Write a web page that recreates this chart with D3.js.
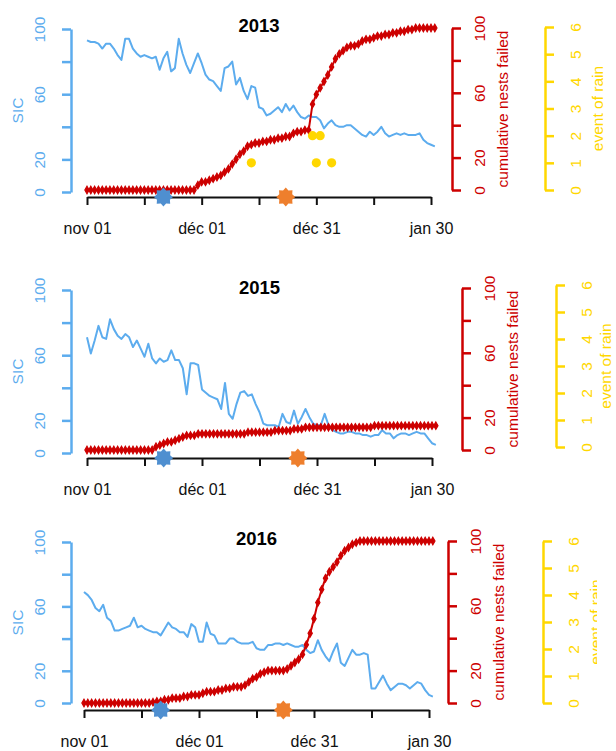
<!DOCTYPE html>
<head>
<meta charset="utf-8">
<title>SIC / nests failed / rain</title>
<style>
    body { margin:0; background:#fff; }
    svg { display:block; }
    text { font-family: "Liberation Sans", Arial, Helvetica, sans-serif; }
</style>
</head>
<body>
<svg width="616" height="751"></svg>

<script src="https://cdnjs.cloudflare.com/ajax/libs/d3/7.8.5/d3.min.js"></script>
<script>
// ---- data (day 0 = nov 01) ----
var years = ["2013", "2015", "2016"];
var tickDays = [0, 15, 30, 45, 60, 75, 90];
var tickLabels = ["nov 01", "", "déc 01", "", "déc 31", "", "jan 30"];
var sicTicks = [0, 20, 40, 60, 80, 100];
var sicTickLabels = ["0", "20", "", "60", "", "100"];
var rainTicks = [0, 1, 2, 3, 4, 5, 6];

var sic2013 = [93,92,92,91,88,91,91,88,84,81, 94,94,88,85,83,84,83,82,83,75,
               82,86,74,76,94,85,78,73,79,85, 79,72,69,68,65,62,76,77,80,66,
               70,62,57,65,64,52,51,47,48,50, 52,49,54,50,53,49,46,45,47,46,
               46,44,39,42,44,41,40,40,41,41, 39,37,35,34,37,35,37,40,36,34,
               35,36,35,36,35,35,35,36,32,30, 29,28];
var nests2013 = [0,0,0,0,0,0,0,0,0,0, 0,0,0,0,0,0,0,0,0,0, 0,0,0,0,0,0,0,0,0,
                 3,5,5,6,7,8,9,11,13,16, 19,22,24,27,28,29,29,30,30,31,
                 31,32,32,33,33,35,36,36,37,37, 53,59,63,67,71,76,81,84,86,88,
                 89,89,90,92,93,93,94,95,95,96, 96,97,97,98,98,99,99,100,100,100,
                 100,100,100];
var rainDays2013 = [43, 59, 60, 61, 64];
var rainCount2013 = [1, 2, 1, 2, 1];

var sic2015 = [71,61,69,78,71,70,82,76,72,70, 73,71,65,69,64,59,67,58,55,58,
               56,57,63,57,57,52,36,55,55,54, 39,37,35,34,33,27,43,24,21,30,
               37,38,35,36,30,25,18,17,17,17, 16,24,19,18,26,18,22,27,22,18,
               17,17,24,17,14,13,12,12,13,13, 12,12,11,11,10,11,11,14,12,12,
               9,11,12,12,11,12,13,12,12,9, 6,5];
var nests2015 = [0,0,0,0,0,0,0,0,0,0, 0,0,0,0,0,0,0,0,
                 2,3,4,5,5,6,7,8,9,9, 9,10,
                 10,10,10,10,10,10,10,10,10,10,10,10,
                 11,11,11,11,11,11,11, 12,12,12,12,12, 13,13,13,
                 14,14,14,14,14,14,14,14,14,14,14,14,14,14,14,14,14,14,
                 15,15,15,15,15,15,15,15,15,15,15,15,15,15,15,15,15];
var rainDays2015 = [];
var rainCount2015 = [];

var sic2016 = [69,67,64,59,57,61,53,51,45,45, 46,47,48,53,47,48,46,45,44,44,
               42,46,50,47,46,44,44,41,49,47, 38,38,50,43,42,37,37,37,40,40,
               38,37,37,37,38,34,33,33,36,36, 37,37,36,37,36,35,35,36,33,31,
               32,39,33,29,26,32,37,25,23,28, 33,30,30,31,30,9,9,13,17,12,
               8,10,12,12,11,9,11,13,12,8, 5,4];
var nests2016 = [0,0,0,0,0,0,0,0,0,0, 0,0,0,0,0,0,0,0,
                 0.5,1,1,2,2,3,3,3,4,4, 5,5,5,6,7,7,7,8,8,9,
                 9,10,10,10,11,13,15,16,18,19, 20,20,20,20,20,21,23,25,27,30,
                 36,43,52,62,70,77,81,84,87,91, 94,96,98,99,100,100,100,100,100,100,
                 100,100,100,100,100,100,100,100,100,100, 100,100,100,100];
var rainDays2016 = [];
var rainCount2016 = [];

var blueStarDays = [20, 20, 20];
var orangeStarDays = [52, 55, 52];

var sicSeries = [sic2013, sic2015, sic2016];
var nestSeries = [nests2013, nests2015, nests2016];
var rainDaySeries = [rainDays2013, rainDays2015, rainDays2016];
var rainCountSeries = [rainCount2013, rainCount2015, rainCount2016];

// ---- layout of the three panels ----
var panels = [
  { x0: 87, x1: 431, axisY: 197, sicY: [192, 29], nestY: [190, 28], rainY: [190, 27],
    leftX: 71, redX: 452, rainX: 545, rainTitleDx: 53, titleY: 32, clipX: 616 },
  { x0: 87, x1: 432, axisY: 458, sicY: [453, 290], nestY: [450, 288], rainY: [447, 285],
    leftX: 71, redX: 462, rainX: 556, rainTitleDx: 50, titleY: 294, clipX: 616 },
  { x0: 84, x1: 429, axisY: 710, sicY: [703, 542], nestY: [703, 541], rainY: [703, 541],
    leftX: 71, redX: 448, rainX: 543, rainTitleDx: 53, titleY: 545, clipX: 597 }
];

var blue = "#5CACEE", red = "#CD0000", gold = "#FFD700";
var starBlue = "#4F8FD0", starOrange = "#EE7F2D";
var fs = 15.5;

var svg = d3.select("svg");

svg.append("defs").selectAll("clipPath")
  .data(panels).enter().append("clipPath")
    .attr("id", function(d, i){ return "clip" + i; })
  .append("rect")
    .attr("x", 0).attr("y", 0)
    .attr("width", function(d){ return d.clipX; }).attr("height", 751);

function starPath(r0, r1, n) {
  var pts = [];
  for (var k = 0; k < 2 * n; k++) {
    var a = Math.PI * k / n - Math.PI / 2;
    var r = k % 2 ? r1 : r0;
    pts.push([Math.cos(a) * r, Math.sin(a) * r]);
  }
  return d3.line()(pts) + "Z";
}

function styleAxis(g, col) {
  g.select(".domain").attr("stroke", col).attr("stroke-width", 2.5);
  g.selectAll(".tick line").attr("stroke", col).attr("stroke-width", 2.5);
  g.selectAll(".tick text").attr("fill", col).attr("font-size", fs)
    .attr("font-family", null);
}

function vLabels(g, dx) {
  g.selectAll(".tick text")
    .attr("x", 0).attr("y", 0).attr("dy", "0.35em")
    .attr("text-anchor", "middle")
    .attr("transform", "translate(" + dx + ",0) rotate(-90)");
}

function vTitle(g, x, y, txt, col) {
  g.append("text")
    .attr("transform", "translate(" + x + "," + y + ") rotate(-90)")
    .attr("dy", "0.35em")
    .attr("text-anchor", "middle")
    .attr("font-size", fs)
    .attr("fill", col)
    .text(txt);
}

panels.forEach(function(p, i) {
  var g = svg.append("g").attr("clip-path", "url(#clip" + i + ")");

  var x = d3.scaleLinear().domain([0, 90]).range([p.x0, p.x1]);
  var ySic = d3.scaleLinear().domain([0, 100]).range(p.sicY);
  var yNest = d3.scaleLinear().domain([0, 100]).range(p.nestY);
  var yRain = d3.scaleLinear().domain([0, 6]).range(p.rainY);

  // SIC axis (left)
  var ga = g.append("g").attr("transform", "translate(" + p.leftX + ",0)")
    .call(d3.axisLeft(ySic).tickValues(sicTicks)
      .tickFormat(function(d, k){ return sicTickLabels[k]; })
      .tickSize(9).tickSizeOuter(0));
  styleAxis(ga, blue);
  vLabels(ga, -31);
  vTitle(g, 18, (p.sicY[0] + p.sicY[1]) / 2, "SIC", blue);

  // nests axis (right)
  var gr = g.append("g").attr("transform", "translate(" + p.redX + ",0)")
    .call(d3.axisRight(yNest).tickValues(sicTicks)
      .tickFormat(function(d, k){ return sicTickLabels[k]; })
      .tickSize(9).tickSizeOuter(0));
  styleAxis(gr, red);
  vLabels(gr, 28);
  vTitle(g, p.redX + 51, (p.nestY[0] + p.nestY[1]) / 2, "cumulative nests failed", red);

  // rain axis (far right)
  var gy = g.append("g").attr("transform", "translate(" + p.rainX + ",0)")
    .call(d3.axisRight(yRain).tickValues(rainTicks)
      .tickFormat(d3.format("d")).tickSize(9).tickSizeOuter(0));
  styleAxis(gy, gold);
  vLabels(gy, 31);
  vTitle(g, p.rainX + p.rainTitleDx, (p.rainY[0] + p.rainY[1]) / 2, "event of rain", gold);

  // date axis
  var gx = g.append("g").attr("transform", "translate(0," + p.axisY + ")")
    .call(d3.axisBottom(x).tickValues(tickDays)
      .tickFormat(function(d, k){ return tickLabels[k]; })
      .tickSize(8).tickSizeOuter(0));
  styleAxis(gx, "#111");
  gx.select(".domain").attr("stroke-width", 2);
  gx.selectAll(".tick line").attr("stroke-width", 2);
  gx.selectAll(".tick text").attr("y", 37).attr("dy", 0).attr("font-size", 16);

  // title
  g.append("text")
    .attr("x", (p.x0 + p.x1) / 2).attr("y", p.titleY)
    .attr("text-anchor", "middle")
    .attr("font-size", 18.5).attr("font-weight", "bold")
    .attr("fill", "#000")
    .text(years[i]);

  // SIC line
  g.append("path")
    .datum(sicSeries[i])
    .attr("fill", "none").attr("stroke", blue).attr("stroke-width", 2)
    .attr("stroke-linejoin", "round")
    .attr("d", d3.line().x(function(d, k){ return x(k); }).y(function(d){ return ySic(d); }));

  // cumulative nests failed
  var nests = nestSeries[i];
  g.append("path")
    .datum(nests)
    .attr("fill", "none").attr("stroke", red).attr("stroke-width", 2)
    .attr("d", d3.line().x(function(d, k){ return x(k); }).y(function(d){ return yNest(d); }));
  g.selectAll(".nest").data(nests).enter().append("path")
    .attr("class", "nest")
    .attr("transform", function(d, k){ return "translate(" + x(k) + "," + yNest(d) + ")"; })
    .attr("d", d3.symbol(d3.symbolDiamond, 16))
    .attr("fill", red).attr("stroke", red).attr("stroke-width", 1.2);

  // rain events
  var rd = rainDaySeries[i], rc = rainCountSeries[i];
  g.selectAll(".rain").data(rd).enter().append("circle")
    .attr("class", "rain")
    .attr("cx", function(d){ return x(d); })
    .attr("cy", function(d, k){ return yRain(rc[k]); })
    .attr("r", 4.6)
    .attr("fill", gold);

  // event stars on the date axis
  g.append("path")
    .attr("transform", "translate(" + x(blueStarDays[i]) + "," + p.axisY + ")")
    .attr("d", starPath(9.5, 7, 8))
    .attr("fill", starBlue);
  g.append("path")
    .attr("transform", "translate(" + x(orangeStarDays[i]) + "," + p.axisY + ")")
    .attr("d", starPath(9.5, 7, 8))
    .attr("fill", starOrange);
});
</script>
</body>
